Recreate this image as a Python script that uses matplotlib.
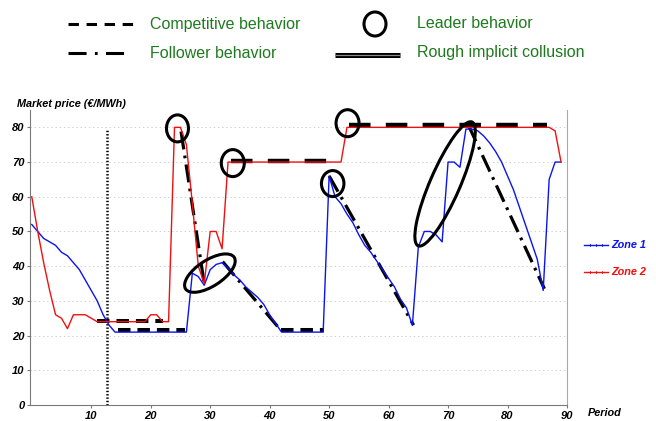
import matplotlib
matplotlib.use("Agg")
import matplotlib.pyplot as plt
import numpy as np
from matplotlib.patches import Ellipse
from matplotlib.transforms import ScaledTranslation

plt.rcParams["font.family"] = ["Liberation Sans", "DejaVu Sans"]
plt.rcParams["lines.scale_dashes"] = False

# market price per period
periods = np.arange(0, 90)
zone1 = [52, 50, 48, 47, 46, 44, 43, 41, 39, 36, 33, 30, 26, 23, 21,
         21, 21, 21, 21, 21, 21, 21, 21, 21, 21, 21, 21,
         38, 37, 34.5, 39, 40.5, 41, 39.5, 37.5, 36, 34, 32.5, 31, 29, 26, 23.5,
         21, 21, 21, 21, 21, 21, 21, 21,
         66, 60, 58, 55, 52.5, 49, 46, 44, 41.5, 39, 36.5, 34, 30.5, 28, 23,
         45.5, 50, 50, 49, 47, 70, 70, 68.5, 79.5, 79.5, 79, 77.5, 75.5, 73, 70,
         66, 62, 57, 52, 47, 42, 33, 65, 70, 70]
zone2 = ([60, 50, 41, 33, 26, 25, 22, 26, 26, 26, 25, 24, 24, 24, 24, 24, 24,
          24, 24, 24, 26, 26, 24, 24, 80, 80, 75, 58, 40, 35, 50, 50, 45, 70]
         + [70] * 19 + [80] * 35 + [79, 70])

# annotations (period, price)
competitive_short = [((10.9, 24.3), (22.0, 24.3)), ((14.5, 21.5), (25.7, 21.5)),
                     ((41.9, 21.6), (49.1, 21.6))]
competitive_long = [((33.5, 70.3), (49.7, 70.3)), ((53.3, 80.6), (86.6, 80.6))]
follower = [((25.1, 78.8), (29.0, 35.0)), ((32.1, 41.3), (41.9, 21.5)),
            ((50.0, 66.0), (64.2, 23.0)), ((73.4, 80.7), (86.2, 33.5))]
# leader: centre period, centre price, width px, height px, angle
leader = [(24.5, 79.7, 22, 27, 0), (33.8, 69.7, 23, 27, 0), (53.1, 81.2, 23, 27, 0),
          (50.6, 63.8, 22.5, 26, 0), (29.95, 38.0, 58, 26, 33),
          (69.5, 63.7, 135, 30, 66.5)]
split_period = 12.65

BLUE = "#0a14f0"
RED = "#f01010"
GREEN = "#1f7a1f"

fig = plt.figure(figsize=(6.56, 4.21), dpi=100)
ov = fig.add_axes([0, 0, 1, 1], zorder=-1)
ov.set_xlim(0, 656)
ov.set_ylim(421, 0)
ov.axis("off")

ax = fig.add_axes([30 / 656, 16 / 421, 537 / 656, 295 / 421])
ax.set_xlim(-0.3, 89.7)
ax.set_ylim(0, 85)

for y in range(10, 81, 10):
    ax.axhline(y, color="#c8c8c8", lw=0.6, ls=(0, (1, 2)), zorder=0)

ax.plot([split_period, split_period], [0, 79.5], color="black", lw=1.8,
        ls=(0, (1.0, 1.4)), zorder=2)

for (x0, y0), (x1, y1) in competitive_short:
    ax.plot([x0, x1], [y0, y1], color="black", lw=2.9, ls=(0, (9, 5)),
            dash_capstyle="butt", zorder=3)
for (x0, y0), (x1, y1) in competitive_long:
    ax.plot([x0, x1], [y0, y1], color="black", lw=3.2, ls=(0, (15.5, 11)),
            dash_capstyle="butt", zorder=3)
for (x0, y0), (x1, y1) in follower:
    ax.plot([x0, x1], [y0, y1], color="black", lw=2.3,
            ls=(0, (13, 4.5, 2, 4.5)), zorder=3)

ax.plot(periods, zone1, color=BLUE, lw=1.0, zorder=4)
ax.plot(periods, zone2, color=RED, lw=1.0, zorder=4)

for cx, cy, w, h, ang in leader:
    tr = fig.dpi_scale_trans + ScaledTranslation(cx, cy, ax.transData)
    ax.add_patch(Ellipse((0, 0), w / 100, h / 100, angle=ang, transform=tr,
                         fill=False, ec="black", lw=2.2, zorder=5, clip_on=False))

ax.spines["top"].set_visible(False)
ax.spines["left"].set_color("#7a7a7a")
ax.spines["bottom"].set_color("#7a7a7a")
ax.spines["right"].set_color("#a8a8a8")

ax.set_xticks(range(10, 91, 10))
ax.set_yticks(range(0, 81, 10))
ax.tick_params(axis="both", length=2, color="#7a7a7a", pad=2, labelsize=8)
for lab in ax.get_xticklabels() + ax.get_yticklabels():
    lab.set_fontweight("bold")
    lab.set_fontstyle("italic")

bi = dict(fontweight="bold", fontstyle="italic", fontsize=7.8)
ov.text(17, 104, "Market price (€/MWh)", ha="left", va="center", **bi)
ov.text(588, 413, "Period", ha="left", va="center", **bi)

# right legend
ov.plot([584, 608], [245, 245], color=BLUE, lw=1.0)
ov.text(611, 245, "Zone 1", color=BLUE, ha="left", va="center", **bi)
ov.plot([584, 608], [272, 272], color=RED, lw=1.0)
ov.text(611, 272, "Zone 2", color=RED, ha="left", va="center", **bi)
for xm in [590, 596, 602]:
    ov.plot([xm, xm], [243.8, 246.2], color=BLUE, lw=0.6)
    ov.plot([xm, xm], [270.8, 273.2], color=RED, lw=0.6)

# top legend
ov.plot([68, 136], [24, 24], color="black", lw=2.2, ls=(0, (7.5, 5.5)))
ov.text(150, 24, "Competitive behavior", color=GREEN, fontsize=11.5,
        ha="left", va="center")
ov.add_patch(Ellipse((375, 24), 22, 24, fill=False, ec="black", lw=2.2))
ov.text(417, 24, "Leader behavior", color=GREEN, fontsize=11.5,
        ha="left", va="center")
ov.plot([68, 130], [53, 53], color="black", lw=2.2, ls=(0, (13, 6, 2, 6)))
ov.text(150, 53, "Follower behavior", color=GREEN, fontsize=11.5,
        ha="left", va="center")
ov.plot([335, 400], [55, 55], color="black", lw=3.6, solid_capstyle="butt")
ov.plot([335, 400], [55, 55], color="#8a8a8a", lw=0.9, solid_capstyle="butt")
ov.text(417, 53, "Rough implicit collusion", color=GREEN, fontsize=11.5,
        ha="left", va="center")

fig.savefig("out.png", dpi=100)
